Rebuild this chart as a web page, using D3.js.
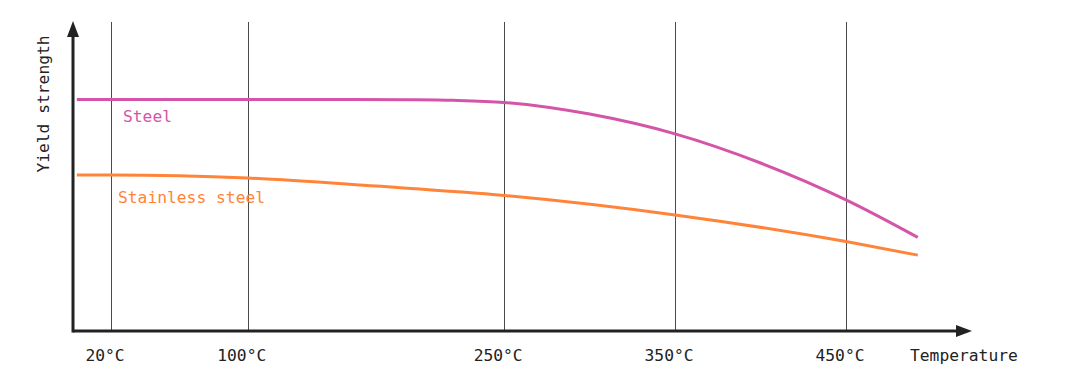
<!DOCTYPE html>
<html><head><meta charset="utf-8">
<script src="https://cdn.jsdelivr.net/npm/d3@7"></script>
<style>
html,body{margin:0;padding:0;background:#fff;}
text{font-family:"DejaVu Sans Mono","Liberation Mono",monospace;}
</style></head>
<body>
<svg id="chart" width="1070" height="377"></svg>
<script>
const tickValues = [20, 100, 250, 350, 450];
const tickLabels = ["20°C", "100°C", "250°C", "350°C", "450°C"];
const steelT = [0, 100, 160, 195, 220, 250, 300, 350, 400, 450, 492];
const steelV = [77.2, 77.2, 77.2, 77.1, 76.9, 76.2, 72.3, 65.7, 56.0, 43.7, 31.2];
const stainlessT = [0, 20, 100, 175, 250, 350, 450, 492];
const stainlessV = [52.0, 52.0, 51.0, 48.3, 45.2, 38.7, 29.8, 25.3];
const seriesNames = ["Steel", "Stainless steel"];
const colors = ["#d455a8", "#ff843a"];

const svg = d3.select("#chart");
const x = d3.scaleLinear().domain([20, 450]).range([111, 846]);
const y = d3.scaleLinear().domain([0, 100]).range([331, 31]);
const fs = 16.3;

// grid lines
svg.append("g").selectAll("line").data(tickValues).join("line")
  .attr("x1", d => Math.round(x(d)) + 0.5).attr("x2", d => Math.round(x(d)) + 0.5)
  .attr("y1", 22).attr("y2", 331)
  .attr("stroke", "#4a4a4a").attr("stroke-width", 1);

// tick labels
svg.append("g").selectAll("text").data(tickValues).join("text")
  .attr("x", d => x(d) - 6).attr("y", 361)
  .attr("text-anchor", "middle").attr("font-size", fs).attr("fill", "#222")
  .text((d, i) => tickLabels[i]);

svg.append("text").attr("x", 910).attr("y", 361).attr("font-size", fs)
  .attr("fill", "#222").text("Temperature");
svg.append("text").attr("transform", "translate(49,104) rotate(-90)")
  .attr("text-anchor", "middle").attr("font-size", fs).attr("fill", "#222")
  .text("Yield strength");

// series
const line = d3.line().x(d => x(d[0])).y(d => y(d[1])).curve(d3.curveMonotoneX);
const series = [d3.zip(steelT, steelV), d3.zip(stainlessT, stainlessV)];
svg.append("g").selectAll("path").data(series).join("path")
  .attr("d", line).attr("fill", "none")
  .attr("stroke", (d, i) => colors[i]).attr("stroke-width", 3);

svg.append("text").attr("x", 123).attr("y", 122).attr("font-size", fs)
  .attr("fill", colors[0]).text(seriesNames[0]);
svg.append("text").attr("x", 118).attr("y", 203).attr("font-size", fs)
  .attr("fill", colors[1]).text(seriesNames[1]);

// axes with arrows
const ax = "#222";
svg.append("line").attr("x1", 73).attr("x2", 960).attr("y1", 331).attr("y2", 331)
  .attr("stroke", ax).attr("stroke-width", 3);
svg.append("line").attr("x1", 73).attr("x2", 73).attr("y1", 332.5).attr("y2", 34)
  .attr("stroke", ax).attr("stroke-width", 3);
svg.append("path").attr("d", "M972,331 L956,325 L956,337 Z").attr("fill", ax);
svg.append("path").attr("d", "M73,21 L67,37 L79,37 Z").attr("fill", ax);
</script>
</body></html>
